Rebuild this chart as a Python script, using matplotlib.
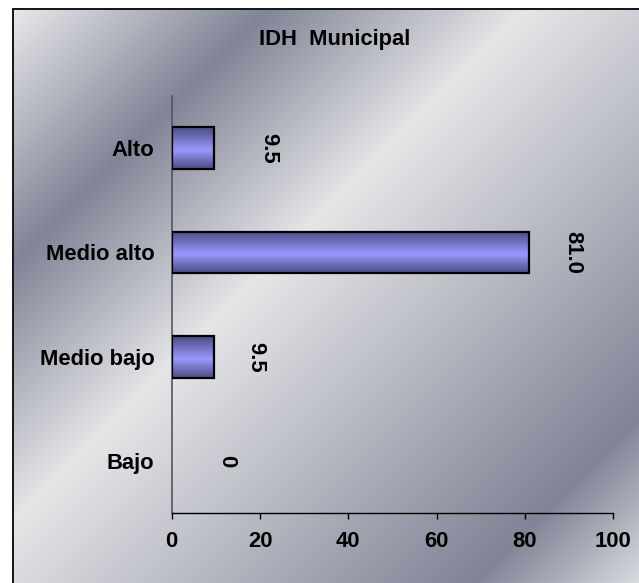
import numpy as np
import matplotlib
matplotlib.use("Agg")
import matplotlib.pyplot as plt
from matplotlib.colors import LinearSegmentedColormap

# ------- Data ------- #
categories = ["Alto", "Medio alto", "Medio bajo", "Bajo"]
values = [9.5, 81.0, 9.5, 0.0]
value_labels = ["9.5", "81.0", "9.5", "0"]
x_ticks = [0, 20, 40, 60, 80, 100]
title = "IDH  Municipal"

# ------- Style ------- #
W, H, DPI = 639, 583, 100
label_offsets_px = [55, 43, 42, 55]   # distance from bar end to value label centre
plt.rcParams['font.family'] = ['Liberation Sans', 'DejaVu Sans']
plt.rcParams['font.weight'] = 'bold'
fs = 15.8

fig = plt.figure(figsize=(W / DPI, H / DPI), dpi=DPI, facecolor='white')

# ------- Metallic diagonal background ------- #
bg = fig.add_axes([0, 0, 1, 1], zorder=-2)
bg.set_axis_off()
yy, xx = np.mgrid[0:H, 0:W]
s = xx + yy
stops = [0, 275, 535, 1055, 1222]
cols = np.array([[242, 242, 242],
                 [128, 132, 150],
                 [230, 230, 232],
                 [128, 132, 150],
                 [218, 220, 224]]) / 255.0
img = np.stack([np.interp(s, stops, cols[:, c]) for c in range(3)], axis=-1)
# white margin outside the chart frame (top / left) and dark frame line
img[:8, :] = 1.0
img[:, :12] = 1.0
img[8:10, 12:] = 0.1
img[8:, 12:14] = 0.1
bg.imshow(img, extent=[0, W, H, 0], aspect='auto', interpolation='bilinear')
bg.set_xlim(0, W)
bg.set_ylim(H, 0)

# ------- Bar chart ------- #
ax = fig.add_axes([171.7 / W, 1 - 513.3 / H, (613.3 - 171.7) / W, (513.3 - 96) / H])
ax.patch.set_alpha(0)

ypos = np.arange(len(categories))
bar_h = 0.40
bars = ax.barh(ypos, values, height=bar_h, facecolor='none',
               edgecolor='black', linewidth=1.6, zorder=3)

bar_cmap = LinearSegmentedColormap.from_list(
    "barfill", [(0.0, (0.30, 0.30, 0.52)), (0.55, (0.60, 0.60, 1.0)), (1.0, (0.30, 0.30, 0.52))])
grad = np.linspace(0, 1, 64).reshape(-1, 1)
for b in bars:
    x0, y0 = b.get_x(), b.get_y()
    w, h = b.get_width(), b.get_height()
    if w > 0:
        ax.imshow(grad, cmap=bar_cmap, aspect='auto', extent=[x0, x0 + w, y0 + h, y0],
                  zorder=2, interpolation='bilinear')
    else:
        b.set_visible(False)

for i, (v, lab) in enumerate(zip(values, value_labels)):
    ax.annotate(lab, xy=(v, ypos[i]), xytext=(label_offsets_px[i] * 72 / DPI, 0),
                textcoords='offset points', rotation=-90, ha='center', va='center',
                fontsize=fs, fontweight='bold')

ax.set_xlim(0, 100)
ax.set_ylim(len(categories) - 0.5, -0.5)
ax.set_xticks(x_ticks)
ax.set_xticklabels([str(t) for t in x_ticks], fontsize=fs, fontweight='bold')
ax.set_yticks(ypos)
ax.set_yticklabels(categories, fontsize=fs, fontweight='bold')
ax.tick_params(axis='x', direction='out', length=4.5, width=1, pad=8)
ax.tick_params(axis='y', length=0, pad=12.5)

for side in ['top', 'right']:
    ax.spines[side].set_visible(False)
ax.spines['left'].set_color('#55555f')
ax.spines['left'].set_linewidth(1.2)
ax.spines['bottom'].set_color('black')
ax.spines['bottom'].set_linewidth(1.0)

fig.text(334.5 / W, 1 - 40 / H, title, ha='center', va='center',
         fontsize=fs, fontweight='bold')

fig.savefig("out.png", dpi=DPI)
